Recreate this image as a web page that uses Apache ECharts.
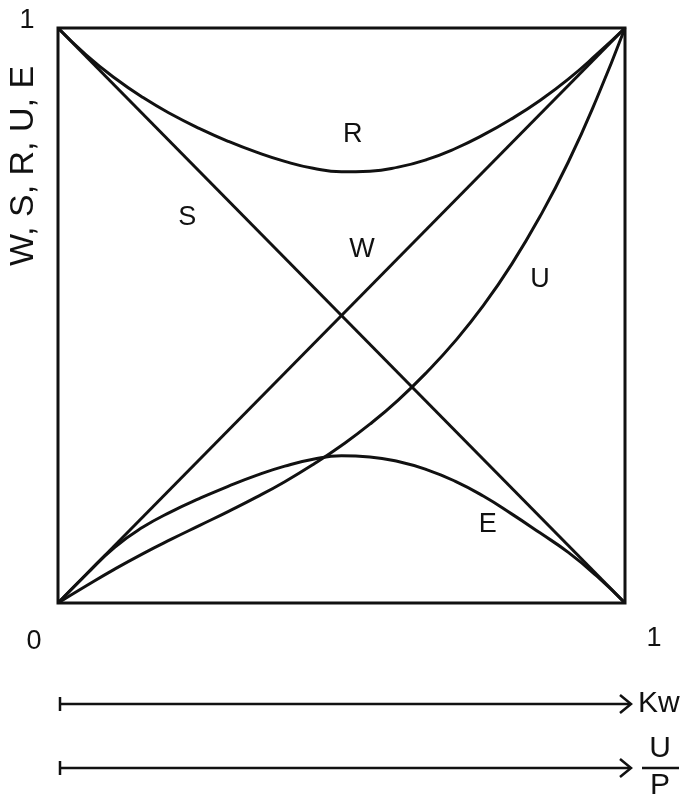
<!DOCTYPE html>
<html style="height: 100%">
  <head>
    <meta charset="utf-8" />
  </head>
  <body style="height: 100%; margin: 0; background: #fff">
    <div id="container" style="width: 685px; height: 796px"></div>
    <script type="text/javascript" src="https://cdn.jsdelivr.net/npm/echarts@6/dist/echarts.min.js"></script>
    <script type="text/javascript">
      var xs = [0, 0.05, 0.1, 0.15, 0.2, 0.25, 0.3, 0.35, 0.4, 0.45, 0.5,
                0.55, 0.6, 0.65, 0.7, 0.75, 0.8, 0.85, 0.9, 0.95, 1];
      var rValues = [1, 0.953, 0.913, 0.879, 0.85, 0.825, 0.803, 0.784, 0.768, 0.756, 0.75,
                     0.751, 0.758, 0.771, 0.79, 0.814, 0.842, 0.874, 0.911, 0.954, 1];
      var uValues = [0, 0.03, 0.059, 0.086, 0.111, 0.135, 0.159, 0.184, 0.211, 0.241, 0.274,
                     0.311, 0.353, 0.401, 0.455, 0.517, 0.589, 0.672, 0.767, 0.877, 1];
      var eValues = [0, 0.05, 0.097, 0.132, 0.159, 0.182, 0.203, 0.222, 0.238, 0.25, 0.256,
                     0.254, 0.246, 0.232, 0.212, 0.186, 0.155, 0.122, 0.088, 0.047, 0];
      var wLine = [[0, 0], [1, 1]];
      var sLine = [[0, 1], [1, 0]];

      // curve names and where their letters sit
      var curveNames = ['R', 'S', 'W', 'U', 'E'];
      var curveLabelPos = [[0.52, 0.814], [0.228, 0.671], [0.536, 0.614], [0.85, 0.562], [0.758, 0.136]];

      var xTickLabels = ['0', '1'];
      var yTickLabels = ['1'];
      var yName = 'W, S, R, U, E';
      var arrowNames = ['Kw', 'U', 'P'];

      var ink = '#111';
      var font = 'Liberation Sans, Arial, sans-serif';

      function pairs(vals) {
        return xs.map(function (x, i) { return [x, vals[i]]; });
      }

      function curve(name, data, smooth) {
        return {
          name: name,
          type: 'line',
          data: data,
          smooth: smooth,
          showSymbol: false,
          silent: true,
          lineStyle: { color: ink, width: 3 }
        };
      }

      function arrow(y) {
        return [
          { type: 'line', shape: { x1: 60, y1: y, x2: 630, y2: y }, style: { stroke: ink, lineWidth: 2.5 } },
          { type: 'line', shape: { x1: 60, y1: y - 7, x2: 60, y2: y + 7 }, style: { stroke: ink, lineWidth: 2.5 } },
          { type: 'polyline', shape: { points: [[620, y - 9], [631, y], [620, y + 9]] }, style: { stroke: ink, fill: null, lineWidth: 2.5 } }
        ];
      }

      var dom = document.getElementById('container');
      var myChart = echarts.init(dom);

      var graphics = [
        { type: 'text', x: 24, y: 166, rotation: Math.PI / 2,
          style: { text: yName, font: '34px ' + font, fill: ink, align: 'center', verticalAlign: 'middle' } },
        { type: 'text', x: 27, y: 21,
          style: { text: yTickLabels[0], font: '27px ' + font, fill: ink, align: 'center', verticalAlign: 'middle' } },
        { type: 'text', x: 34, y: 642,
          style: { text: xTickLabels[0], font: '27px ' + font, fill: ink, align: 'center', verticalAlign: 'middle' } },
        { type: 'text', x: 654, y: 639,
          style: { text: xTickLabels[1], font: '27px ' + font, fill: ink, align: 'center', verticalAlign: 'middle' } },
        { type: 'text', x: 638, y: 704,
          style: { text: arrowNames[0], font: '30px ' + font, fill: ink, align: 'left', verticalAlign: 'middle' } },
        { type: 'text', x: 660, y: 749,
          style: { text: arrowNames[1], font: '30px ' + font, fill: ink, align: 'center', verticalAlign: 'middle' } },
        { type: 'line', shape: { x1: 642, y1: 768, x2: 679, y2: 768 }, style: { stroke: ink, lineWidth: 2.5 } },
        { type: 'text', x: 660, y: 786,
          style: { text: arrowNames[2], font: '30px ' + font, fill: ink, align: 'center', verticalAlign: 'middle' } }
      ].concat(arrow(704), arrow(768));

      var option = {
        animation: false,
        backgroundColor: '#fff',
        grid: {
          left: 58, top: 28, width: 567, height: 575,
          show: true, borderColor: ink, borderWidth: 3, backgroundColor: 'transparent'
        },
        xAxis: {
          type: 'value', min: 0, max: 1,
          axisLine: { show: false }, axisTick: { show: false },
          axisLabel: { show: false }, splitLine: { show: false }
        },
        yAxis: {
          type: 'value', min: 0, max: 1,
          axisLine: { show: false }, axisTick: { show: false },
          axisLabel: { show: false }, splitLine: { show: false }
        },
        series: [
          curve('W', wLine, false),
          curve('S', sLine, false),
          curve('R', pairs(rValues), true),
          curve('U', pairs(uValues), true),
          curve('E', pairs(eValues), true),
          {
            type: 'scatter',
            silent: true,
            symbolSize: 0,
            itemStyle: { color: ink, opacity: 1 },
            data: curveNames.map(function (n, i) { return { name: n, value: curveLabelPos[i] }; }),
            label: {
              show: true, position: 'inside', formatter: '{b}',
              color: ink, fontSize: 27, fontFamily: font,
              textBorderWidth: 0
            }
          }
        ],
        graphic: graphics
      };

      myChart.setOption(option);
    </script>
  </body>
</html>
